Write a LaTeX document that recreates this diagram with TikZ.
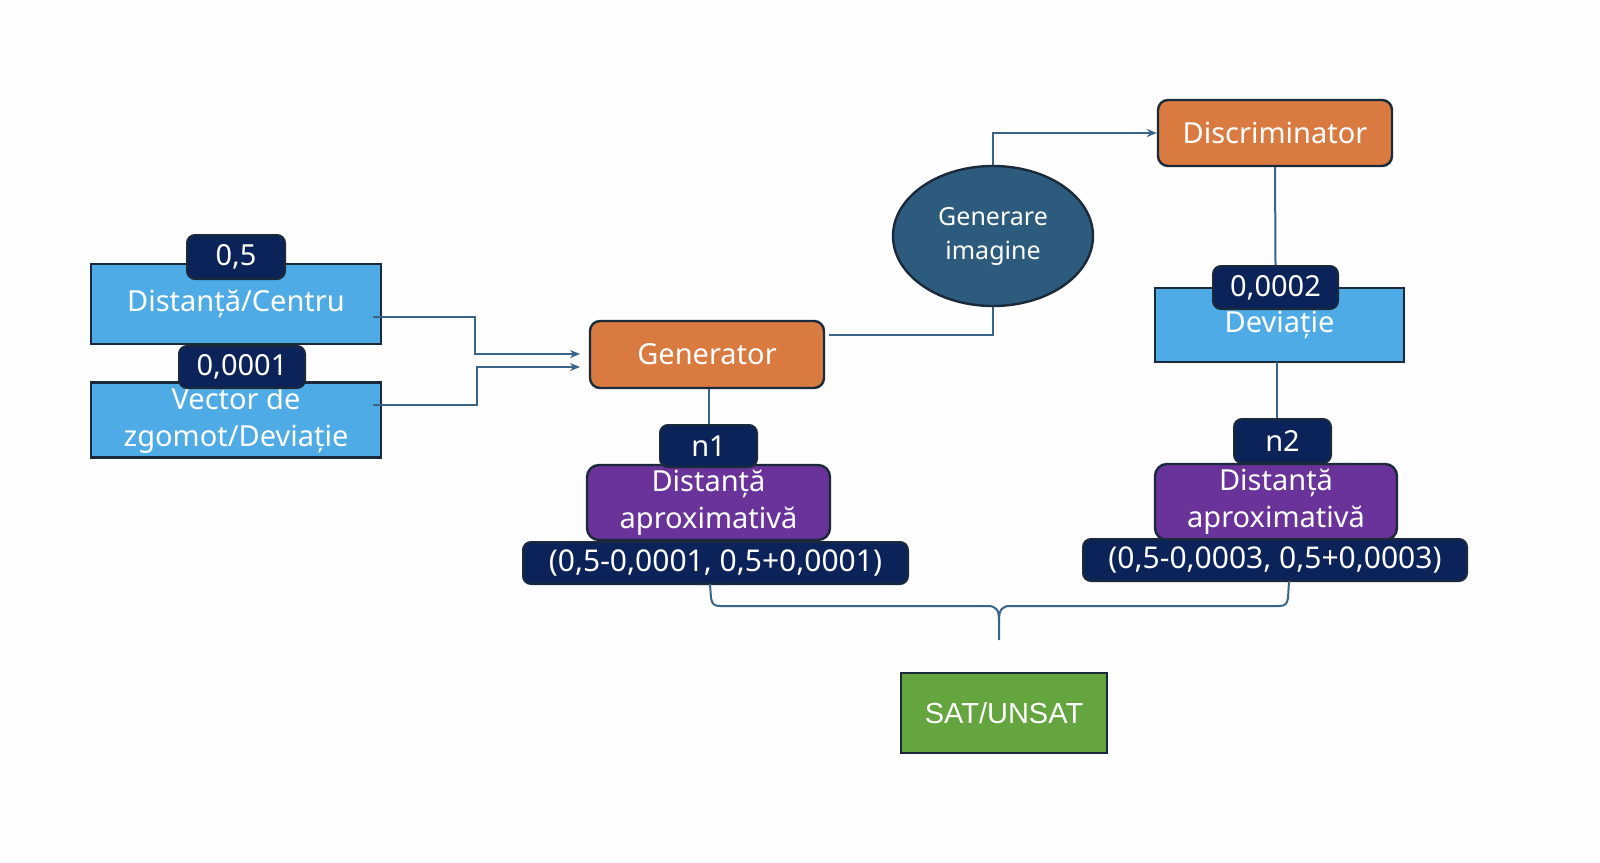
\documentclass[tikz,border=0pt]{standalone}
\usepackage{fontspec}
\setmainfont{Noto Sans}
\newfontfamily\arialfont{Liberation Sans}
\usetikzlibrary{arrows.meta,shapes.geometric}
\definecolor{lblue}{HTML}{4FABE5}
\definecolor{navy}{HTML}{0C2359}
\definecolor{orng}{HTML}{D97B41}
\definecolor{purp}{HTML}{6A3399}
\definecolor{ellc}{HTML}{2D5B7D}
\definecolor{grn}{HTML}{64A53F}
\definecolor{bord}{HTML}{1A2A3A}
\definecolor{lnc}{HTML}{386487}
\tikzset{
  txt/.style={text=white,font=\fontsize{14.5}{18.5}\selectfont,align=center,inner sep=0pt},
  bluebox/.style={txt,draw=bord,fill=lblue,line width=1.2pt},
  navybox/.style={txt,draw=bord,fill=navy,rounded corners=4pt,line width=1pt},
  orgbox/.style={txt,draw=bord,fill=orng,rounded corners=5pt,line width=1.2pt},
  purbox/.style={txt,draw=bord,fill=purp,rounded corners=6pt,line width=1.2pt},
  conn/.style={draw=lnc,line width=1pt},
  arr/.style={conn,-{Stealth[length=5pt,width=4pt]}}
}
\begin{document}
\begin{tikzpicture}[x=0.5pt,y=-0.5pt]
\useasboundingbox (0,0) rectangle (1600,862);
\fill[white!99!gray] (0,0) rectangle (1600,862);
% left inputs
\node[bluebox,minimum width=145pt,minimum height=40pt] (dc) at (236,304) {Distanță/Centru};
\node[bluebox,minimum width=145pt,minimum height=37.5pt] (vz) at (236,420) {Vector de\\zgomot/Deviație};
\node[navybox,minimum width=49pt,minimum height=22pt] (l05) at (236,257) {0,5};
\node[navybox,minimum width=63pt,minimum height=21pt] (l0001) at (242,367) {0,0001};
% generator
\node[orgbox,minimum width=117pt,minimum height=33.5pt] (gen) at (707,354.5) {Generator};
\coordinate (a1s) at (373,317);
\coordinate (a2s) at (373,405);
\draw[arr] (a1s) -- (475,317) -- (475,354) -- (580,354);
\draw[arr] (a2s) -- (477,405) -- (477,367) -- (580,367);
% ellipse
\node[ellipse,draw=bord,fill=ellc,line width=1.2pt,minimum width=100pt,minimum height=70pt,inner sep=0pt,text=white,align=center,font=\fontsize{12.5}{17}\selectfont] (gi) at (993,236) {Generare\\imagine};
\coordinate (gout) at (829,335);
\draw[conn] (gout) -- (993,335) -- (gi.south);
% discriminator
\node[orgbox,minimum width=117pt,minimum height=33pt] (disc) at (1275,133) {Discriminator};
\draw[arr] (gi.north) -- (993,133) -- (disc.west);
% deviatie
\node[bluebox,minimum width=124.5pt,minimum height=37pt] (dev) at (1279.5,325) {Deviație};
\node[navybox,minimum width=62.5pt,minimum height=21.5pt] (l0002) at (1275.5,287.5) {0,0002};
\draw[conn] (disc.south) -- (l0002.north);
% left result
\node[purbox,minimum width=121.5pt,minimum height=37.5pt] (p1) at (708.5,502.5) {Distanță\\aproximativă};
\node[navybox,minimum width=48.5pt,minimum height=21pt] (n1) at (708.5,446) {n1};
\node[navybox,minimum width=192.5pt,minimum height=21pt,font=\fontsize{15}{18.5}\selectfont] (r1) at (715.5,563) {(0,5-0,0001, 0,5+0,0001)};
\draw[conn] (n1.north |- gen.south) -- (n1.north);
% right result
\node[purbox,minimum width=121pt,minimum height=38pt] (p2) at (1276,502) {Distanță\\aproximativă};
\node[navybox,minimum width=48.5pt,minimum height=22pt] (n2) at (1282.5,441) {n2};
\node[navybox,minimum width=192pt,minimum height=21pt,font=\fontsize{15}{18.5}\selectfont] (r2) at (1275,560) {(0,5-0,0003, 0,5+0,0003)};
\coordinate (d2) at (1277,362);
\draw[conn] (d2) -- (d2 |- n2.north);
% brace
\coordinate (btip) at (999,640);
\draw[conn] (710,584) -- (711,598) .. controls (712,604) and (714,606) .. (720,606) -- (988,606) .. controls (996,606) and (999,610) .. (999,620) -- (btip);
\draw[conn] (1289,581) -- (1288,598) .. controls (1287,604) and (1285,606) .. (1279,606) -- (1010,606) .. controls (1002,606) and (999,610) .. (999,620);
% SAT
\node[draw=bord,fill=grn,line width=1.2pt,minimum width=103pt,minimum height=40pt,inner sep=0pt,text=white,font=\arialfont\fontsize{14.5}{17}\selectfont] (sat) at (1004,713) {SAT/UNSAT};
\end{tikzpicture}
\end{document}
